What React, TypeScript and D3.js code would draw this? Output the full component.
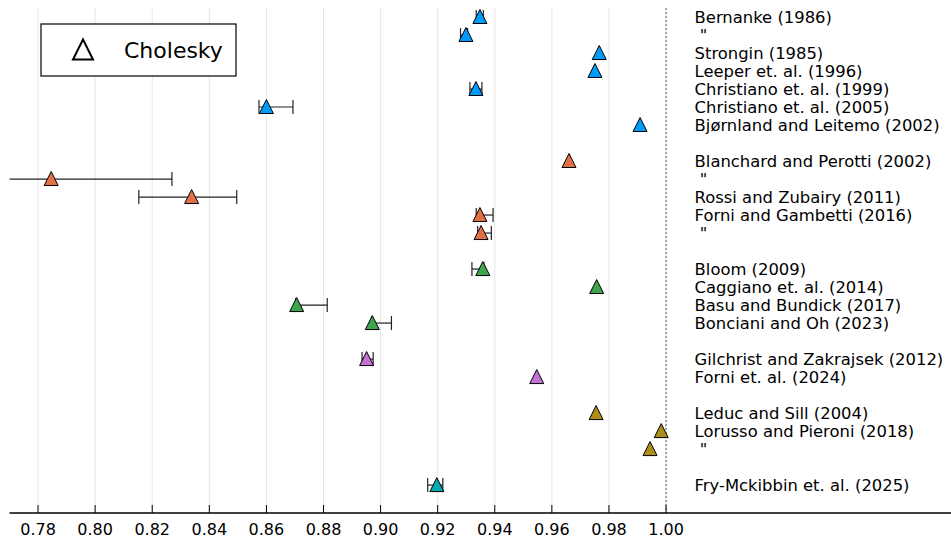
import React from 'react';
import * as d3 from 'd3';

const labels = [
  'Bernanke (1986)', ' "', 'Strongin (1985)', 'Leeper et. al. (1996)', 'Christiano et. al. (1999)',
  'Christiano et. al. (2005)', 'Bjørnland and Leitemo (2002)',
  'Blanchard and Perotti (2002)', ' "', 'Rossi and Zubairy (2011)', 'Forni and Gambetti (2016)', ' "',
  'Bloom (2009)', 'Caggiano et. al. (2014)', 'Basu and Bundick (2017)', 'Bonciani and Oh (2023)',
  'Gilchrist and Zakrajsek (2012)', 'Forni et. al. (2024)',
  'Leduc and Sill (2004)', 'Lorusso and Pieroni (2018)', ' "',
  'Fry-Mckibbin et. al. (2025)',
];
// row position of each study (gaps separate the groups)
const rows = [0, 1, 2, 3, 4, 5, 6, 8, 9, 10, 11, 12, 14, 15, 16, 17, 19, 20, 22, 23, 24, 26];
const estimates = [
  0.9348, 0.9299, 0.9766, 0.9751, 0.9334, 0.86, 0.9909,
  0.966, 0.7846, 0.8338, 0.9348, 0.9352,
  0.9358, 0.9757, 0.8706, 0.8971,
  0.8951, 0.9547,
  0.9755, 0.9983, 0.9944,
  0.9197,
];
const lowers = [
  0.9335, 0.928, null, null, 0.9313, 0.8574, null,
  null, 0.76, 0.8153, 0.9335, 0.934,
  0.932, null, 0.8702, 0.8968,
  0.8935, null,
  null, null, null,
  0.9165,
];
const uppers = [
  0.936, 0.9305, null, null, 0.9355, 0.8693, null,
  null, 0.8269, 0.8496, 0.9394, 0.9388,
  0.9362, null, 0.8813, 0.9038,
  0.8974, null,
  null, null, null,
  0.9218,
];
const groups = [0, 0, 0, 0, 0, 0, 0, 1, 1, 1, 1, 1, 2, 2, 2, 2, 3, 3, 4, 4, 4, 5];
const palette = ['#009afa', '#e36f47', '#3ea44e', '#c371d2', '#ac8e18', '#00aaae'];
const tickValues = [0.78, 0.8, 0.82, 0.84, 0.86, 0.88, 0.9, 0.92, 0.94, 0.96, 0.98, 1.0];

const W = 951;
const H = 538;
const FONT = 'DejaVu Sans';

function triangle(cx, cy, r = 7) {
  return `M${cx},${cy - r - 0.5}L${cx + r},${cy + r - 0.5}L${cx - r},${cy + r - 0.5}Z`;
}

export default function App() {
  const x = d3.scaleLinear().domain([0.77, 1.1]).range([9.5, 951.5]);
  const y = d3.scaleLinear().domain([-0.5, 27.55]).range([8, 513]);
  const top = 8;
  const bottom = 513;

  return (
    <svg width={W} height={H} style={{ position: 'absolute', left: 0, top: 0 }} fontFamily={FONT}>
      <defs>
        <clipPath id="plot">
          <rect x={x(0.77)} y={0} width={W} height={bottom} />
        </clipPath>
      </defs>
      <rect width={W} height={H} fill="#fff" />
      {/* grid */}
      {tickValues.map((t) => (
        <line key={t} x1={x(t)} x2={x(t)} y1={top} y2={bottom} stroke="#e6e6e6" strokeWidth={1} />
      ))}
      {/* reference line at 1 */}
      <line x1={x(1)} x2={x(1)} y1={top} y2={bottom} stroke="#555" strokeWidth={1} strokeDasharray="2,2" />

      {/* error bars */}
      <g clipPath="url(#plot)" stroke="#222" strokeWidth={1.2}>
        {rows.map((r, i) => {
          if (lowers[i] == null) return null;
          const cy = y(r);
          return (
            <g key={i}>
              <line x1={x(lowers[i])} x2={x(uppers[i])} y1={cy} y2={cy} />
              <line x1={x(lowers[i])} x2={x(lowers[i])} y1={cy - 7} y2={cy + 7} />
              <line x1={x(uppers[i])} x2={x(uppers[i])} y1={cy - 7} y2={cy + 7} />
            </g>
          );
        })}
      </g>

      {/* markers */}
      {rows.map((r, i) => (
        <path key={i} d={triangle(x(estimates[i]), y(r))} fill={palette[groups[i]]} stroke="#000" strokeWidth={1} />
      ))}

      {/* study labels */}
      {rows.map((r, i) => (
        <text key={i} x={x(1.01)} y={y(r) + 6} fontSize={16.4} fill="#000" style={{ whiteSpace: 'pre' }}>
          {labels[i]}
        </text>
      ))}

      {/* x axis */}
      <line x1={x(0.77)} x2={W} y1={bottom} y2={bottom} stroke="#000" strokeWidth={1.3} />
      {tickValues.map((t) => (
        <g key={t}>
          <line x1={x(t)} x2={x(t)} y1={bottom - 8} y2={bottom} stroke="#000" strokeWidth={1} />
          <text x={x(t)} y={bottom + 22} fontSize={16} textAnchor="middle" fill="#000">
            {d3.format('.2f')(t)}
          </text>
        </g>
      ))}

      {/* legend */}
      <rect x={41} y={24} width={195} height={52} fill="#fff" stroke="#000" strokeWidth={1.2} />
      <path d={triangle(83, 50, 10)} fill="#fff" stroke="#000" strokeWidth={2} />
      <text x={124} y={58} fontSize={22} fill="#000">Cholesky</text>
    </svg>
  );
}
